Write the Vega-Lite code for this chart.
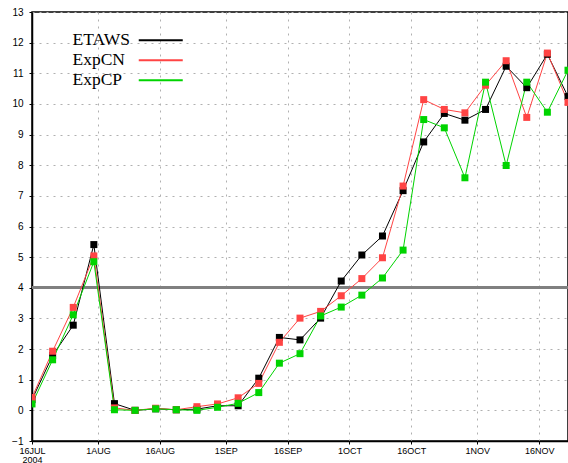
{
  "$schema": "https://vega.github.io/schema/vega-lite/v6.json",
  "width": 536,
  "height": 429,
  "autosize": "none",
  "padding": {"left": 32, "top": 12, "right": 0, "bottom": 22},
  "background": "white",
  "config": {
    "view": {"stroke": "black", "strokeWidth": 1.5},
    "axis": {"labelFont": "Liberation Sans", "labelFontSize": 10, "labelColor": "black"}
  },
  "data": {
    "values": [
      {"date": "2004-07-16", "series": "ETAWS", "value": 0.35},
      {"date": "2004-07-21", "series": "ETAWS", "value": 1.79},
      {"date": "2004-07-26", "series": "ETAWS", "value": 2.78},
      {"date": "2004-07-31", "series": "ETAWS", "value": 5.41},
      {"date": "2004-08-05", "series": "ETAWS", "value": 0.22},
      {"date": "2004-08-10", "series": "ETAWS", "value": 0.0},
      {"date": "2004-08-15", "series": "ETAWS", "value": 0.05},
      {"date": "2004-08-20", "series": "ETAWS", "value": 0.02},
      {"date": "2004-08-25", "series": "ETAWS", "value": 0.04},
      {"date": "2004-08-30", "series": "ETAWS", "value": 0.15},
      {"date": "2004-09-04", "series": "ETAWS", "value": 0.15},
      {"date": "2004-09-09", "series": "ETAWS", "value": 1.05},
      {"date": "2004-09-14", "series": "ETAWS", "value": 2.38},
      {"date": "2004-09-19", "series": "ETAWS", "value": 2.30},
      {"date": "2004-09-24", "series": "ETAWS", "value": 3.01},
      {"date": "2004-09-29", "series": "ETAWS", "value": 4.22},
      {"date": "2004-10-04", "series": "ETAWS", "value": 5.07},
      {"date": "2004-10-09", "series": "ETAWS", "value": 5.69},
      {"date": "2004-10-14", "series": "ETAWS", "value": 7.17},
      {"date": "2004-10-19", "series": "ETAWS", "value": 8.76},
      {"date": "2004-10-24", "series": "ETAWS", "value": 9.69},
      {"date": "2004-10-29", "series": "ETAWS", "value": 9.47},
      {"date": "2004-11-03", "series": "ETAWS", "value": 9.82},
      {"date": "2004-11-08", "series": "ETAWS", "value": 11.23},
      {"date": "2004-11-13", "series": "ETAWS", "value": 10.53},
      {"date": "2004-11-18", "series": "ETAWS", "value": 11.62},
      {"date": "2004-11-23", "series": "ETAWS", "value": 10.24},
      {"date": "2004-07-16", "series": "ExpCN", "value": 0.42},
      {"date": "2004-07-21", "series": "ExpCN", "value": 1.93},
      {"date": "2004-07-26", "series": "ExpCN", "value": 3.36},
      {"date": "2004-07-31", "series": "ExpCN", "value": 5.04},
      {"date": "2004-08-05", "series": "ExpCN", "value": 0.08},
      {"date": "2004-08-10", "series": "ExpCN", "value": 0.0},
      {"date": "2004-08-15", "series": "ExpCN", "value": 0.07},
      {"date": "2004-08-20", "series": "ExpCN", "value": 0.02},
      {"date": "2004-08-25", "series": "ExpCN", "value": 0.12},
      {"date": "2004-08-30", "series": "ExpCN", "value": 0.21},
      {"date": "2004-09-04", "series": "ExpCN", "value": 0.41},
      {"date": "2004-09-09", "series": "ExpCN", "value": 0.88},
      {"date": "2004-09-14", "series": "ExpCN", "value": 2.22},
      {"date": "2004-09-19", "series": "ExpCN", "value": 3.01},
      {"date": "2004-09-24", "series": "ExpCN", "value": 3.23},
      {"date": "2004-09-29", "series": "ExpCN", "value": 3.74},
      {"date": "2004-10-04", "series": "ExpCN", "value": 4.30},
      {"date": "2004-10-09", "series": "ExpCN", "value": 4.98},
      {"date": "2004-10-14", "series": "ExpCN", "value": 7.32},
      {"date": "2004-10-19", "series": "ExpCN", "value": 10.14},
      {"date": "2004-10-24", "series": "ExpCN", "value": 9.82},
      {"date": "2004-10-29", "series": "ExpCN", "value": 9.71},
      {"date": "2004-11-03", "series": "ExpCN", "value": 10.61},
      {"date": "2004-11-08", "series": "ExpCN", "value": 11.41},
      {"date": "2004-11-13", "series": "ExpCN", "value": 9.56},
      {"date": "2004-11-18", "series": "ExpCN", "value": 11.66},
      {"date": "2004-11-23", "series": "ExpCN", "value": 10.05},
      {"date": "2004-07-16", "series": "ExpCP", "value": 0.21},
      {"date": "2004-07-21", "series": "ExpCP", "value": 1.65},
      {"date": "2004-07-26", "series": "ExpCP", "value": 3.12},
      {"date": "2004-07-31", "series": "ExpCP", "value": 4.85},
      {"date": "2004-08-05", "series": "ExpCP", "value": 0.02},
      {"date": "2004-08-10", "series": "ExpCP", "value": 0.0},
      {"date": "2004-08-15", "series": "ExpCP", "value": 0.05},
      {"date": "2004-08-20", "series": "ExpCP", "value": 0.02},
      {"date": "2004-08-25", "series": "ExpCP", "value": 0.0},
      {"date": "2004-08-30", "series": "ExpCP", "value": 0.10},
      {"date": "2004-09-04", "series": "ExpCP", "value": 0.23},
      {"date": "2004-09-09", "series": "ExpCP", "value": 0.58},
      {"date": "2004-09-14", "series": "ExpCP", "value": 1.54},
      {"date": "2004-09-19", "series": "ExpCP", "value": 1.85},
      {"date": "2004-09-24", "series": "ExpCP", "value": 3.08},
      {"date": "2004-09-29", "series": "ExpCP", "value": 3.37},
      {"date": "2004-10-04", "series": "ExpCP", "value": 3.76},
      {"date": "2004-10-09", "series": "ExpCP", "value": 4.32},
      {"date": "2004-10-14", "series": "ExpCP", "value": 5.23},
      {"date": "2004-10-19", "series": "ExpCP", "value": 9.49},
      {"date": "2004-10-24", "series": "ExpCP", "value": 9.22},
      {"date": "2004-10-29", "series": "ExpCP", "value": 7.59},
      {"date": "2004-11-03", "series": "ExpCP", "value": 10.71},
      {"date": "2004-11-08", "series": "ExpCP", "value": 7.99},
      {"date": "2004-11-13", "series": "ExpCP", "value": 10.71},
      {"date": "2004-11-18", "series": "ExpCP", "value": 9.73},
      {"date": "2004-11-23", "series": "ExpCP", "value": 11.10}
    ]
  },
  "encoding": {
    "x": {
      "field": "date",
      "type": "temporal",
      "scale": {"type": "utc", "domain": [{"year": 2004, "month": 7, "date": 16, "utc": true}, {"year": 2004, "month": 11, "date": 23, "utc": true}]},
      "axis": {
        "title": null,
        "values": [
          {"year": 2004, "month": 7, "date": 16, "utc": true},
          {"year": 2004, "month": 8, "date": 1, "utc": true},
          {"year": 2004, "month": 8, "date": 16, "utc": true},
          {"year": 2004, "month": 9, "date": 1, "utc": true},
          {"year": 2004, "month": 9, "date": 16, "utc": true},
          {"year": 2004, "month": 10, "date": 1, "utc": true},
          {"year": 2004, "month": 10, "date": 16, "utc": true},
          {"year": 2004, "month": 11, "date": 1, "utc": true},
          {"year": 2004, "month": 11, "date": 16, "utc": true}
        ],
        "labelExpr": "utcFormat(datum.value, '%m%d') == '0716' ? [utcFormat(datum.value, '%-d') + upper(utcFormat(datum.value, '%b')), '2004'] : utcFormat(datum.value, '%-d') + upper(utcFormat(datum.value, '%b'))",
        "labelFontSize": 9,
        "labelLineHeight": 9,
        "labelPadding": 2,
        "labelFlush": false,
        "labelOverlap": false,
        "tickSize": 3,
        "tickColor": "black",
        "domainColor": "black",
        "domainWidth": 1.5,
        "grid": true,
        "gridColor": "#b0b0b0",
        "gridDash": [2, 5],
        "gridWidth": 1
      }
    },
    "y": {
      "field": "value",
      "type": "quantitative",
      "scale": {"domain": [-1, 13], "nice": false, "zero": false},
      "axis": {
        "title": null,
        "values": [-1, 0, 1, 2, 3, 4, 5, 6, 7, 8, 9, 10, 11, 12, 13],
        "tickSize": 3,
        "tickColor": "black",
        "labelPadding": 6,
        "domainColor": "black",
        "domainWidth": 1.5,
        "grid": true,
        "gridColor": "#b0b0b0",
        "gridDash": [2, 5],
        "gridWidth": 1
      }
    }
  },
  "layer": [
    {
      "mark": {"type": "rule", "color": "#808080", "strokeWidth": 2},
      "encoding": {"y": {"datum": 4}, "x": null}
    },
    {
      "mark": {"type": "line", "strokeWidth": 1, "clip": true},
      "encoding": {
        "color": {
          "field": "series",
          "type": "nominal",
          "scale": {"domain": ["ETAWS", "ExpCN", "ExpCP"], "range": ["#000000", "#ff4444", "#00d400"]},
          "legend": {
            "title": null,
            "orient": "none",
            "legendX": 120,
            "legendY": 19.5,
            "symbolType": "M-4,0H4",
            "symbolSize": 121,
            "symbolStrokeWidth": 2,
            "symbolOffset": 0,
            "labelFont": "Liberation Serif",
            "labelFontSize": 17.5,
            "labelColor": "black",
            "labelAlign": "left",
            "labelOffset": -97,
            "labelLimit": 0,
            "rowPadding": 1
          }
        }
      }
    },
    {
      "mark": {"type": "square", "size": 49, "filled": true, "opacity": 1, "clip": true},
      "encoding": {
        "color": {"field": "series", "type": "nominal", "legend": null}
      }
    }
  ]
}
